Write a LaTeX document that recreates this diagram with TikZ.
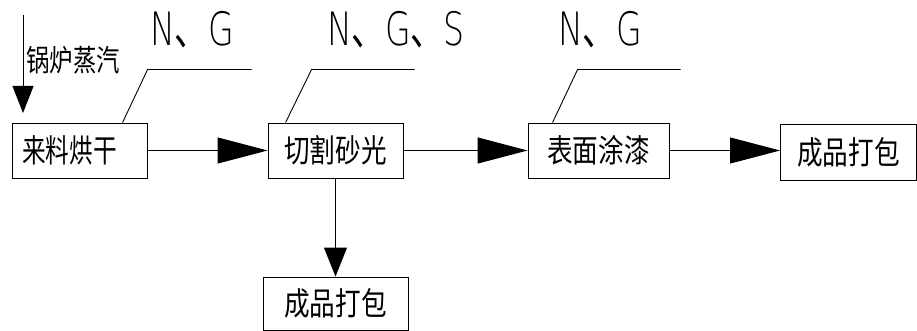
\documentclass[tikz,border=0pt]{standalone}
\usepackage{fontspec}
\usetikzlibrary{arrows.meta}
\newfontfamily\cjk{Noto Sans CJK SC}
\newfontfamily\thinf{DejaVu Sans ExtraLight}
\newcommand{\dun}{{\cjk 、}}
\newcommand{\bt}[2][0.8]{\scalebox{#1}[1]{#2}}
\begin{document}
\begin{tikzpicture}[x=1pt,y=-1pt,
  box/.style={draw, line width=0.9pt, inner sep=0pt, minimum height=55pt, font=\cjk\fontsize{32}{32}\selectfont},
  flow/.style={line width=0.9pt, -{Triangle[length=50pt,width=26pt]}},
  flowv/.style={line width=0.9pt, -{Triangle[length=29pt,width=23pt]}},
  flows/.style={line width=0.9pt, -{Triangle[length=27pt,width=21pt]}},
  lead/.style={line width=0.9pt},
  tag/.style={font=\thinf\fontsize{46}{46}\selectfont, xscale=0.72, inner sep=0pt, anchor=base west}]
\useasboundingbox (0,0) rectangle (917,331);
\node[box, minimum width=135pt] (dry) at (79.5,150.5) {\hspace*{-20pt}\bt[0.74]{来料烘干}};
\node[box, minimum width=135pt] (cut) at (335.5,150.5) {\bt{切割砂光}};
\node[box, minimum width=141pt] (coat) at (598.5,150.5) {\bt{表面涂漆}};
\node[box, minimum width=136pt, minimum height=56pt] (packR) at (848.5,152) {\bt{成品打包}};
\node[box, minimum width=145pt, minimum height=53pt] (packB) at (335.5,303.5) {\bt{成品打包}};
\draw[flow] (dry.east) -- (cut.west);
\draw[flow] (cut.east) -- (coat.west);
\draw[flow] (coat.east) -- (coat.east -| packR.west);
\draw[flowv] (cut.south) -- (packB.north);
\coordinate (steamTop) at (23,15);
\coordinate (steamEnd) at (23,113);
\draw[flows] (steamTop) -- (steamEnd);
\node[font=\cjk\fontsize{30}{30}\selectfont, anchor=west, inner sep=0pt] (steam) at (26,60) {\bt[0.78]{锅炉蒸汽}};
\draw[lead] (dry.north west) ++(111,0) -- ++(25,-53) -- ++(104,0);
\draw[lead] (cut.north west) ++(18,0) -- ++(26,-53) -- ++(103,0);
\draw[lead] (coat.north west) ++(25,0) -- ++(25,-53) -- ++(103,0);
\node[tag] (t1) at (150,46) {N\dun G};
\node[tag] (t2) at (327,46) {N\dun G\dun S};
\node[tag] (t3) at (558,46) {N\dun G};
\end{tikzpicture}
\end{document}
